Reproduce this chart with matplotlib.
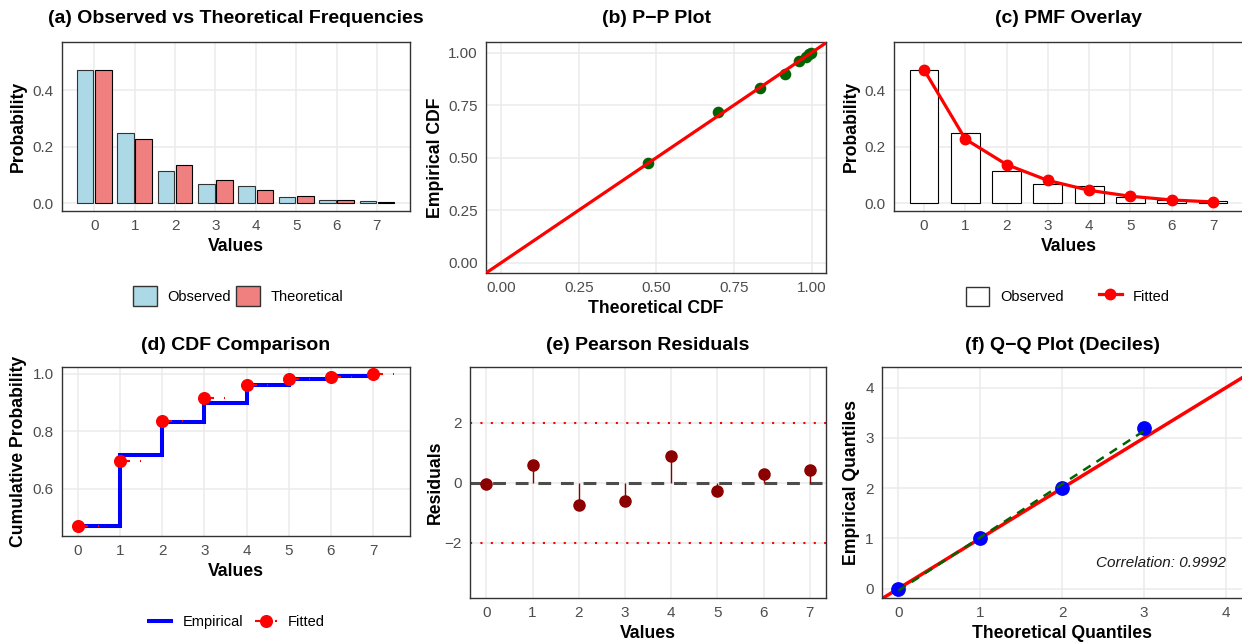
import numpy as np
import matplotlib
matplotlib.use('Agg')
import matplotlib.pyplot as plt
from matplotlib.patches import Patch
from matplotlib.lines import Line2D

plt.rcParams['font.family'] = ['Liberation Sans', 'DejaVu Sans']

# data
values = [0, 1, 2, 3, 4, 5, 6, 7]
obs_prob = [0.470, 0.248, 0.114, 0.068, 0.062, 0.022, 0.013, 0.007]
theo_prob = [0.472, 0.227, 0.137, 0.081, 0.046, 0.025, 0.012, 0.005]
emp_cdf = [0.472, 0.718, 0.832, 0.899, 0.961, 0.980, 0.992, 1.000]
fit_cdf = [0.472, 0.697, 0.834, 0.914, 0.959, 0.980, 0.990, 0.997]
residuals = [-0.05, 0.58, -0.75, -0.60, 0.88, -0.27, 0.30, 0.41]
qq_theo = [0, 1, 2, 3]
qq_emp = [0, 1, 2, 3.2]
qq_corr = 0.9992

W, H = 1242, 644
fig = plt.figure(figsize=(W / 100, H / 100), dpi=100)

GRID = '#EBEBEB'
TICK = '#4D4D4D'


def make_ax(x0, y0, x1, y1):
    ax = fig.add_axes([x0 / W, 1 - y1 / H, (x1 - x0) / W, (y1 - y0) / H])
    ax.set_axisbelow(True)
    ax.grid(True, color=GRID, lw=1.1)
    for s in ax.spines.values():
        s.set_color('#333333')
        s.set_linewidth(1.0)
    ax.tick_params(length=0, labelsize=11, labelcolor=TICK, pad=6)
    return ax


def labels(ax, box, title, xlab, ylab, ty, xly, ylx):
    x0, y0, x1, y1 = box
    fig.text((x0 + x1) / 2 / W, 1 - ty / H, title, ha='center', va='center',
             fontsize=14, fontweight='bold')
    ax.set_xlabel(xlab, fontsize=12.7, fontweight='bold')
    ax.xaxis.label.set_va('center')
    ax.xaxis.set_label_coords(0.5, (y1 - xly) / (y1 - y0))
    ax.set_ylabel(ylab, fontsize=12.7, fontweight='bold')
    ax.yaxis.label.set_va('center')
    ax.yaxis.set_label_coords((ylx - x0) / (x1 - x0), 0.5)


x = np.array(values)

# (a) observed vs theoretical
box = (62, 42, 410, 211)
ax = make_ax(*box)
ax.bar(x - 0.225, obs_prob, width=0.41, color='#ADD8E6', edgecolor='#333333', lw=0.8)
ax.bar(x + 0.225, theo_prob, width=0.41, color='#F08080', edgecolor='black', lw=0.8)
ax.set_xlim(-0.8, 7.82)
ax.set_ylim(-0.027, 0.570)
ax.set_xticks(values)
ax.set_yticks([0.0, 0.2, 0.4])
ax.set_yticklabels(['0.0', '0.2', '0.4'])
labels(ax, box, '(a) Observed vs Theoretical Frequencies', 'Values', 'Probability',
       18.3, 246.7, 18.3)
fig.legend(handles=[Patch(facecolor='#ADD8E6', edgecolor='#333333', label='Observed'),
                    Patch(facecolor='#F08080', edgecolor='#333333', label='Theoretical')],
           loc='center', bbox_to_anchor=(238 / W, 1 - 296 / H), ncol=2, frameon=False,
           fontsize=10.5, handlelength=1.65, handleheight=1.65, handletextpad=0.7,
           columnspacing=0.35, borderpad=0)

# (b) P-P plot
box = (486, 42, 826, 273)
ax = make_ax(*box)
ax.scatter(fit_cdf, emp_cdf, s=70, color='#006400', zorder=3, linewidths=0)
ax.axline((0, 0), slope=1, color='red', lw=2.3, zorder=4)
ax.set_xlim(-0.049, 1.046)
ax.set_ylim(-0.049, 1.05)
ticks = [0, 0.25, 0.5, 0.75, 1.0]
ax.set_xticks(ticks)
ax.set_xticklabels(['0.00', '0.25', '0.50', '0.75', '1.00'])
ax.set_yticks(ticks)
ax.set_yticklabels(['0.00', '0.25', '0.50', '0.75', '1.00'])
labels(ax, box, '(b) P\u2212P Plot', 'Theoretical CDF', 'Empirical CDF', 18.3, 308.3, 435)

# (c) PMF overlay
box = (894, 42, 1243, 211)
ax = make_ax(*box)
ax.bar(x, obs_prob, width=0.7, color='white', edgecolor='black', lw=0.8)
ax.plot(x, theo_prob, color='red', lw=2.3, marker='o', ms=7.5, zorder=3)
ax.set_xlim(-0.727, 7.726)
ax.set_ylim(-0.027, 0.570)
ax.set_xticks(values)
ax.set_yticks([0.0, 0.2, 0.4])
ax.set_yticklabels(['0.0', '0.2', '0.4'])
labels(ax, box, '(c) PMF Overlay', 'Values', 'Probability', 18.3, 246.7, 851.7)
fig.legend(handles=[Patch(facecolor='white', edgecolor='#333333', label='Observed'),
                    Line2D([], [], color='red', lw=2.3, marker='o', ms=7.5, label='Fitted')],
           loc='center', bbox_to_anchor=(1068 / W, 1 - 296.7 / H), ncol=2, frameon=False,
           fontsize=10.5, handlelength=1.6, handleheight=1.65, handletextpad=0.75,
           columnspacing=2.4, borderpad=0)

# (d) CDF comparison
box = (62, 367, 410, 536)
ax = make_ax(*box)
ax.step(x, emp_cdf, where='post', color='blue', lw=2.9, zorder=3,
        solid_joinstyle='miter', solid_capstyle='butt')
for k, f in zip(values, fit_cdf):
    ax.plot([k, k + 0.5], [f, f], color='red', lw=1.5, dashes=(4.8, 4.8),
            dash_capstyle='butt', zorder=4)
ax.plot(x, fit_cdf, 'o', color='red', ms=8.4, zorder=5)
ax.set_xlim(-0.375, 7.875)
ax.set_ylim(0.436, 1.023)
ax.set_xticks(values)
ax.set_yticks([0.6, 0.8, 1.0])
ax.set_yticklabels(['0.6', '0.8', '1.0'])
labels(ax, box, '(d) CDF Comparison', 'Values', 'Cumulative Probability', 345, 571.7, 18.3)
fig.legend(handles=[Line2D([], [], color='blue', lw=2.9, label='Empirical'),
                    Line2D([], [], color='red', lw=1.5, dashes=(4.8, 4.8), marker='o',
                           ms=8.4, label='Fitted')],
           loc='center', bbox_to_anchor=(237 / W, 1 - 621.7 / H), ncol=2, frameon=False,
           fontsize=10.5, handlelength=1.5, handletextpad=0.8,
           columnspacing=0.8, borderpad=0)

# (e) Pearson residuals
box = (470, 367, 826, 598)
ax = make_ax(*box)
ax.axhline(0, color='#4D4D4D', lw=2.2, dashes=(4.2, 3.2), zorder=2)
ax.axhline(2, color='red', lw=1.5, dashes=(1, 4), zorder=2)
ax.axhline(-2, color='red', lw=1.5, dashes=(1, 4), zorder=2)
ax.vlines(x, 0, residuals, color='#8B0000', lw=1.0, zorder=3)
ax.plot(x, residuals, 'o', color='#8B0000', ms=8.0, zorder=4)
ax.set_xlim(-0.355, 7.35)
ax.set_ylim(-3.83, 3.85)
ax.set_xticks(values)
ax.set_yticks([-2, 0, 2])
ax.set_yticklabels(['\u22122', '0', '2'])
labels(ax, box, '(e) Pearson Residuals', 'Values', 'Residuals', 345, 633.3, 435)

# (f) Q-Q plot
box = (882, 367, 1243, 598)
ax = make_ax(*box)
ax.axline((0, 0), slope=1, color='red', lw=2.5, zorder=2)
b1, b0 = np.polyfit(qq_theo, qq_emp, 1)
xs = np.array([min(qq_theo), max(qq_theo)])
ax.plot(xs, b0 + b1 * xs, color='#006400', lw=1.8, dashes=(3.5, 2.8), zorder=4)
ax.plot(qq_theo, qq_emp, 'o', color='blue', ms=9.6, zorder=3)
ax.text(3.2, 0.5, f'Correlation: {qq_corr:.4f}', ha='center', va='center',
        fontsize=11, style='italic', color='#1A1A1A')
ax.set_xlim(-0.2, 4.207)
ax.set_ylim(-0.187, 4.41)
ax.set_xticks([0, 1, 2, 3, 4])
ax.set_yticks([0, 1, 2, 3, 4])
labels(ax, box, '(f) Q\u2212Q Plot (Deciles)', 'Theoretical Quantiles', 'Empirical Quantiles',
       345, 633.3, 851.7)

fig.savefig('out.png', dpi=100, facecolor='white')
